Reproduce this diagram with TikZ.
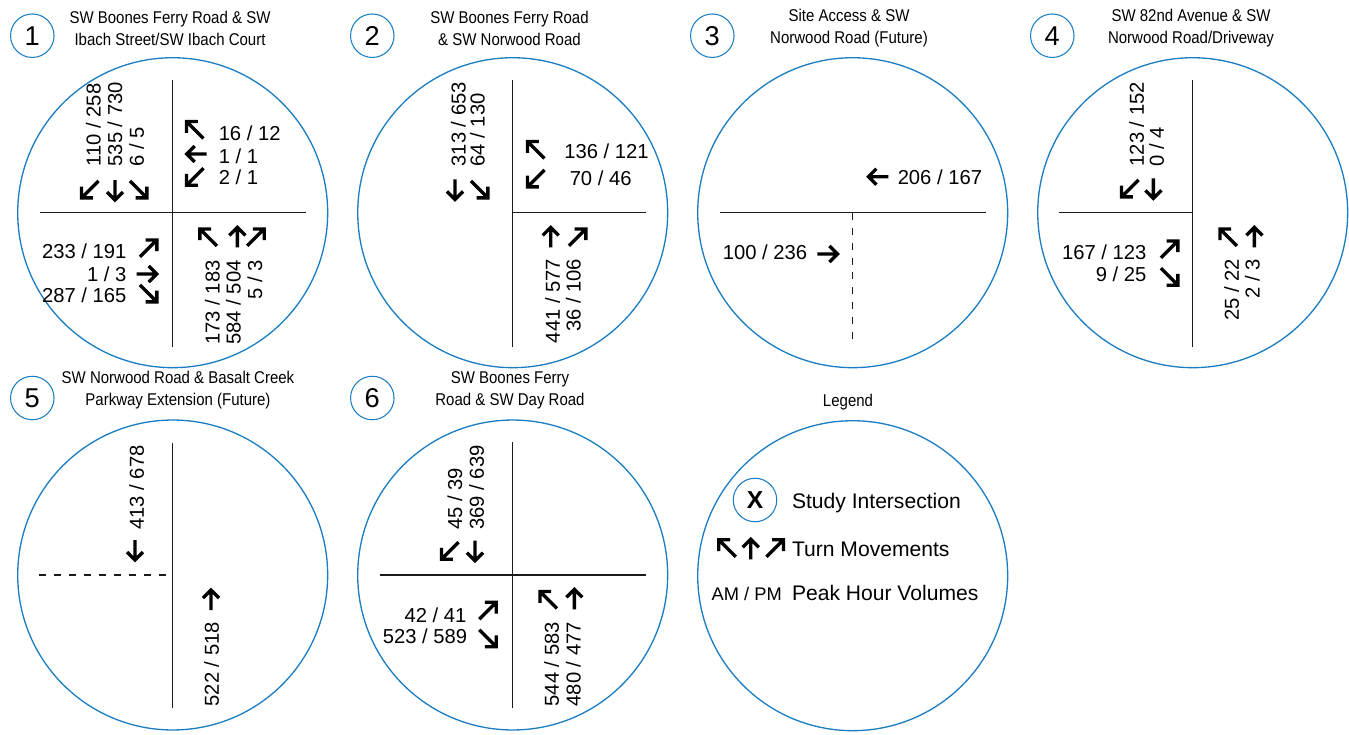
\documentclass[tikz,border=0pt]{standalone}
\usepackage{fontspec}
\setmainfont{Liberation Sans}
\newfontfamily\narrowfont[FakeStretch=0.88]{Liberation Sans}
\usetikzlibrary{calc}
\definecolor{ringblue}{HTML}{1B7EC2}
\definecolor{roadblack}{HTML}{1A1A1A}
\tikzset{
  bigring/.style={circle, draw=ringblue, line width=0.75pt, minimum size=6.2cm, inner sep=0pt},
  numring/.style={circle, draw=ringblue, line width=0.6pt, minimum size=0.87cm, inner sep=0pt,
    font=\fontsize{15.5}{18}\selectfont},
  sitetitle/.style={font=\narrowfont\fontsize{9.7}{12.5}\selectfont, align=center, inner sep=0pt},
  road/.style={line width=0.75pt, draw=roadblack},
  futureroad/.style={road, dash pattern=on 4pt off 4.5pt},
  vol/.style={font=\fontsize{11.5}{13}\selectfont, inner sep=0pt},
  upvol/.style={vol, rotate=90, anchor=west},
  downvol/.style={vol, rotate=90, anchor=east},
  mvline/.style={line width=1.9pt, line join=miter},
  legendtext/.style={font=\fontsize{12}{14}\selectfont, inner sep=0pt, anchor=west}
}
\newcommand{\studysite}[5]{
  \node[bigring] (#1) at (#2) {};
  \node[numring] (#1num) at ($(#1)+(-140.4,-177)$) {#3};
  \node[sitetitle] (#1title) at ($(#1)+(#4,-184.5)$) {#5};
}
\newcommand{\mvarrow}[2]{
  \pgfmathsetmacro\mvlen{ifthenelse(mod(#2,90)==0,10,12)}
  \draw[mvline, shift={#1}, rotate=#2] (-\mvlen,0) -- (\mvlen,0)
    ({\mvlen-8},-8) -- (\mvlen,0) -- ({\mvlen-8},8);
}

\begin{document}
\begin{tikzpicture}[x=0.02cm, y=-0.02cm]
\useasboundingbox (0,0) rectangle (1349,734);
\studysite{c1}{172.7,212.7}{1}{-2.7}{SW Boones Ferry Road \& SW\\Ibach Street/SW Ibach Court}
\studysite{c2}{512.7,212.7}{2}{-3.2}{SW Boones Ferry Road\\\& SW Norwood Road}
\studysite{c3}{852.7,212.7}{3}{-3.7}{Site Access \& SW\\Norwood Road (Future)}
\studysite{c4}{1192.7,212.7}{4}{-1.7}{SW 82nd Avenue \& SW\\Norwood Road/Driveway}
\studysite{c5}{172.7,575}{5}{5.3}{SW Norwood Road \& Basalt Creek\\Parkway Extension (Future)}
\studysite{c6}{512.7,575}{6}{-2.7}{SW Boones Ferry\\Road \& SW Day Road}

% 1
\begin{scope}[shift={(c1)}]
\draw[road] (-133,0) -- (133,0);
\draw[road] (0,-133) -- (0,134);
\node[upvol] (c1s1) at (-79.3,-46) {110 / 258};
\node[upvol] (c1s2) at (-57.7,-46) {535 / 730};
\node[upvol] (c1s3) at (-36,-46) {6 / 5};
\mvarrow{(-82.7,-23.3)}{225}
\mvarrow{(-57.7,-22.7)}{270}
\mvarrow{(-34.3,-23.3)}{315}
\mvarrow{(22.3,-82.7)}{135}
\mvarrow{(24,-58.7)}{180}
\mvarrow{(22.3,-36)}{225}
\node[vol, anchor=west] (c1w1) at (45.7,-79.3) {16 / 12};
\node[vol, anchor=west] (c1w2) at (45.7,-56.7) {1 / 1};
\node[vol, anchor=west] (c1w3) at (45.7,-35) {2 / 1};
\node[vol, anchor=east] (c1e1) at (-46,39) {233 / 191};
\node[vol, anchor=east] (c1e2) at (-46,61.3) {1 / 3};
\node[vol, anchor=east] (c1e3) at (-46,82.3) {287 / 165};
\mvarrow{(-24.3,35.7)}{45}
\mvarrow{(-26,61.3)}{0}
\mvarrow{(-24.3,80.7)}{315}
\mvarrow{(35.7,24.7)}{135}
\mvarrow{(64.7,24.7)}{90}
\mvarrow{(83,24.7)}{45}
\node[downvol] (c1n1) at (39.7,47.3) {173 / 183};
\node[downvol] (c1n2) at (60.7,47.3) {584 / 504};
\node[downvol] (c1n3) at (82.3,47.3) {5 / 3};
\end{scope}

% 2
\begin{scope}[shift={(c2)}]
\draw[road] (0,0) -- (133,0);
\draw[road] (0,-133) -- (0,134);
\node[upvol] (c2s1) at (-54.3,-46) {313 / 653};
\node[upvol] (c2s2) at (-35.3,-46) {64 / 130};
\mvarrow{(-57.7,-23.3)}{270}
\mvarrow{(-33.3,-23.3)}{315}
\mvarrow{(23.3,-62.7)}{135}
\mvarrow{(23.3,-34.3)}{225}
\node[vol, anchor=west] (c2w1) at (51.3,-61) {136 / 121};
\node[vol, anchor=west] (c2w2) at (56.7,-34.3) {70 / 46};
\mvarrow{(38,24.7)}{90}
\mvarrow{(64.7,24.7)}{45}
\node[downvol] (c2n1) at (40,45.7) {441 / 577};
\node[downvol] (c2n2) at (60.7,45.7) {36 / 106};
\end{scope}

% 3
\begin{scope}[shift={(c3)}]
\draw[road] (-133,0) -- (133,0);
\draw[futureroad] (0,0) -- (0,134);
\mvarrow{(25.7,-36)}{180}
\node[vol, anchor=west] (c3w1) at (44.7,-35) {206 / 167};
\node[vol, anchor=east] (c3e1) at (-45.3,39.7) {100 / 236};
\mvarrow{(-25.3,41.3)}{0}
\end{scope}

% 4
\begin{scope}[shift={(c4)}]
\draw[road] (-133.3,0) -- (0,0);
\draw[road] (0,-132.7) -- (0,134);
\node[upvol] (c4s1) at (-56,-46) {123 / 152};
\node[upvol] (c4s2) at (-36,-46) {0 / 4};
\mvarrow{(-62.7,-24.3)}{225}
\mvarrow{(-39.3,-24.3)}{270}
\node[vol, anchor=east] (c4e1) at (-46,39.7) {167 / 123};
\node[vol, anchor=east] (c4e2) at (-46,61.3) {9 / 25};
\mvarrow{(-23.3,36.7)}{45}
\mvarrow{(-23.3,64)}{315}
\mvarrow{(35.7,24.7)}{135}
\mvarrow{(61.7,24.7)}{90}
\node[downvol] (c4n1) at (39,45.7) {25 / 22};
\node[downvol] (c4n2) at (59.7,45.7) {2 / 3};
\end{scope}

% 5
\begin{scope}[shift={(c5)}]
\draw[futureroad] (-133.3,0) -- (0,0);
\draw[road] (0,-132.3) -- (0,133.3);
\node[upvol] (c5s1) at (-36,-45) {413 / 678};
\mvarrow{(-37.7,-25)}{270}
\mvarrow{(38.3,25)}{90}
\node[downvol] (c5n1) at (39,46.7) {522 / 518};
\end{scope}

% 6
\begin{scope}[shift={(c6)}]
\draw[road] (-133,0) -- (133,0);
\draw[road] (0,-133) -- (0,133);
\node[upvol] (c6s1) at (-57.7,-45) {45 / 39};
\node[upvol] (c6s2) at (-36,-45) {369 / 639};
\mvarrow{(-62.7,-24.3)}{225}
\mvarrow{(-37.7,-24.3)}{270}
\node[vol, anchor=east] (c6e1) at (-46,40) {42 / 41};
\node[vol, anchor=east] (c6e2) at (-45.3,61.7) {523 / 589};
\mvarrow{(-25,35.7)}{45}
\mvarrow{(-25,63.3)}{315}
\mvarrow{(35.7,25)}{135}
\mvarrow{(61.7,24.3)}{90}
\node[downvol] (c6n1) at (39,46.7) {544 / 583};
\node[downvol] (c6n2) at (60.7,46.7) {480 / 477};
\end{scope}

% legend
\node[bigring] (lgd) at (852.7,575.7) {};
\node[sitetitle] (lgdtitle) at (848,402) {Legend};
\node[numring, font=\fontsize{14}{16}\bfseries] (lgdx) at (755,500) {X};
\node[legendtext] (lgdstudy) at (791.7,502.7) {Study Intersection};
\mvarrow{(727.3,548.3)}{135}
\mvarrow{(750.7,549.3)}{90}
\mvarrow{(775,548.3)}{45}
\node[legendtext] (lgdturn) at (791.7,549) {Turn Movements};
\node[vol, font=\fontsize{10.4}{12}\selectfont] (lgdampm) at (746.7,594.3) {AM / PM};
\node[legendtext] (lgdpeak) at (791.7,593.3) {Peak Hour Volumes};
\end{tikzpicture}
\end{document}
